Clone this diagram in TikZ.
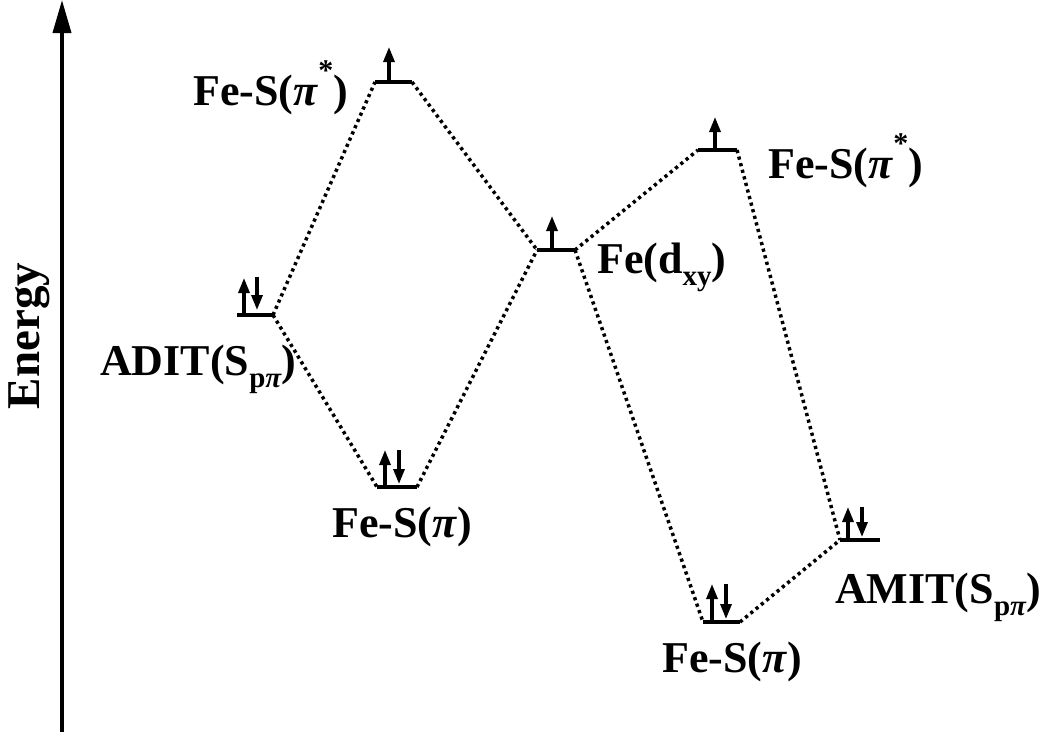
\documentclass[tikz,border=0pt]{standalone}
\usepackage{fontspec}
\setmainfont{Liberation Serif}
\usetikzlibrary{arrows.meta}
\newcommand{\lblfont}{\fontsize{44}{50}\selectfont\bfseries}
\newcommand{\subf}[1]{\raisebox{-0.28em}{\fontsize{29}{30}\selectfont #1}}
\newcommand{\supstar}{\raisebox{0.55em}{\fontsize{30}{30}\selectfont *}}
\newcommand{\pii}{\textit{π}}
\tikzset{
  level/.style={line width=3.6pt},
  conn/.style={line width=3.5pt, dash pattern=on 3.2pt off 3.6pt},
  elecup/.style={line width=3.2pt, -{Triangle[length=15pt,width=11pt]}},
  elecdn/.style={line width=3.2pt, {Triangle[length=15pt,width=11pt]}-},
  lbl/.style={inner sep=0pt, anchor=base west, font=\lblfont},
  axis/.style={line width=3.8pt, -{Triangle[length=33pt,width=18pt]}}
}
\begin{document}
\begin{tikzpicture}[x=1pt,y=-1pt]
\useasboundingbox (0,0) rectangle (1050,732);
% axis
\coordinate (axb) at (62,732);
\coordinate (axt) at (62,0);
\draw[axis] (axb) -- (axt);
\node[rotate=90, anchor=base, inner sep=0pt, font=\fontsize{47}{50}\selectfont\bfseries] (energy) at (39,336) {Energy};
% level endpoints
\coordinate (A1) at (237,315); \coordinate (A2) at (273,315);   % ADIT
\coordinate (B1) at (375,82);  \coordinate (B2) at (412,82);    % Fe-S(pi*) left
\coordinate (C1) at (377,487); \coordinate (C2) at (417,487);   % Fe-S(pi) left
\coordinate (D1) at (537,250); \coordinate (D2) at (575,250);   % Fe(dxy)
\coordinate (E1) at (698,150); \coordinate (E2) at (737,150);   % Fe-S(pi*) right
\coordinate (F1) at (703,622); \coordinate (F2) at (740,622);   % Fe-S(pi) right
\coordinate (G1) at (840,540); \coordinate (G2) at (880,540);   % AMIT
\foreach \p in {A,B,C,D,E,F,G}{\draw[level] (\p1) -- (\p2);}
% connectors
\draw[conn] (A2) -- (B1);
\draw[conn] (A2) -- (C1);
\draw[conn] (B2) -- (D1);
\draw[conn] (C2) -- (D1);
\draw[conn] (D2) -- (E1);
\draw[conn] (D2) -- (F1);
\draw[conn] (E2) -- (G1);
\draw[conn] (F2) -- (G1);
% electrons
\coordinate (ea1) at (244,313); \coordinate (ea1t) at (244,278);
\coordinate (ea2) at (257,310); \coordinate (ea2t) at (257,277);
\draw[elecup] (ea1) -- (ea1t);
\draw[elecdn] (ea2) -- (ea2t);
\coordinate (eb1) at (389,81); \coordinate (eb1t) at (389,47);
\draw[elecup] (eb1) -- (eb1t);
\coordinate (ec1) at (385,486); \coordinate (ec1t) at (385,450);
\coordinate (ec2) at (399,484); \coordinate (ec2t) at (399,450);
\draw[elecup] (ec1) -- (ec1t);
\draw[elecdn] (ec2) -- (ec2t);
\coordinate (ed1) at (552,249); \coordinate (ed1t) at (552,216);
\draw[elecup] (ed1) -- (ed1t);
\coordinate (ee1) at (715,149); \coordinate (ee1t) at (715,117);
\draw[elecup] (ee1) -- (ee1t);
\coordinate (ef1) at (712,621); \coordinate (ef1t) at (712,584);
\coordinate (ef2) at (726,619); \coordinate (ef2t) at (726,584);
\draw[elecup] (ef1) -- (ef1t);
\draw[elecdn] (ef2) -- (ef2t);
\coordinate (eg1) at (848,539); \coordinate (eg1t) at (848,507);
\coordinate (eg2) at (862,537); \coordinate (eg2t) at (862,507);
\draw[elecup] (eg1) -- (eg1t);
\draw[elecdn] (eg2) -- (eg2t);
% labels
\node[lbl] (lB) at (193,105) {Fe-S(\pii\supstar)};
\node[lbl] (lA) at (100,375) {ADIT(S\subf{p\pii})};
\node[lbl] (lC) at (332,537) {Fe-S(\pii)};
\node[lbl] (lD) at (597,273) {Fe(d\subf{xy})};
\node[lbl] (lE) at (768,178) {Fe-S(\pii\supstar)};
\node[lbl] (lF) at (662,672) {Fe-S(\pii)};
\node[lbl] (lG) at (835,603) {AMIT(S\subf{p\pii})};
\end{tikzpicture}
\end{document}
